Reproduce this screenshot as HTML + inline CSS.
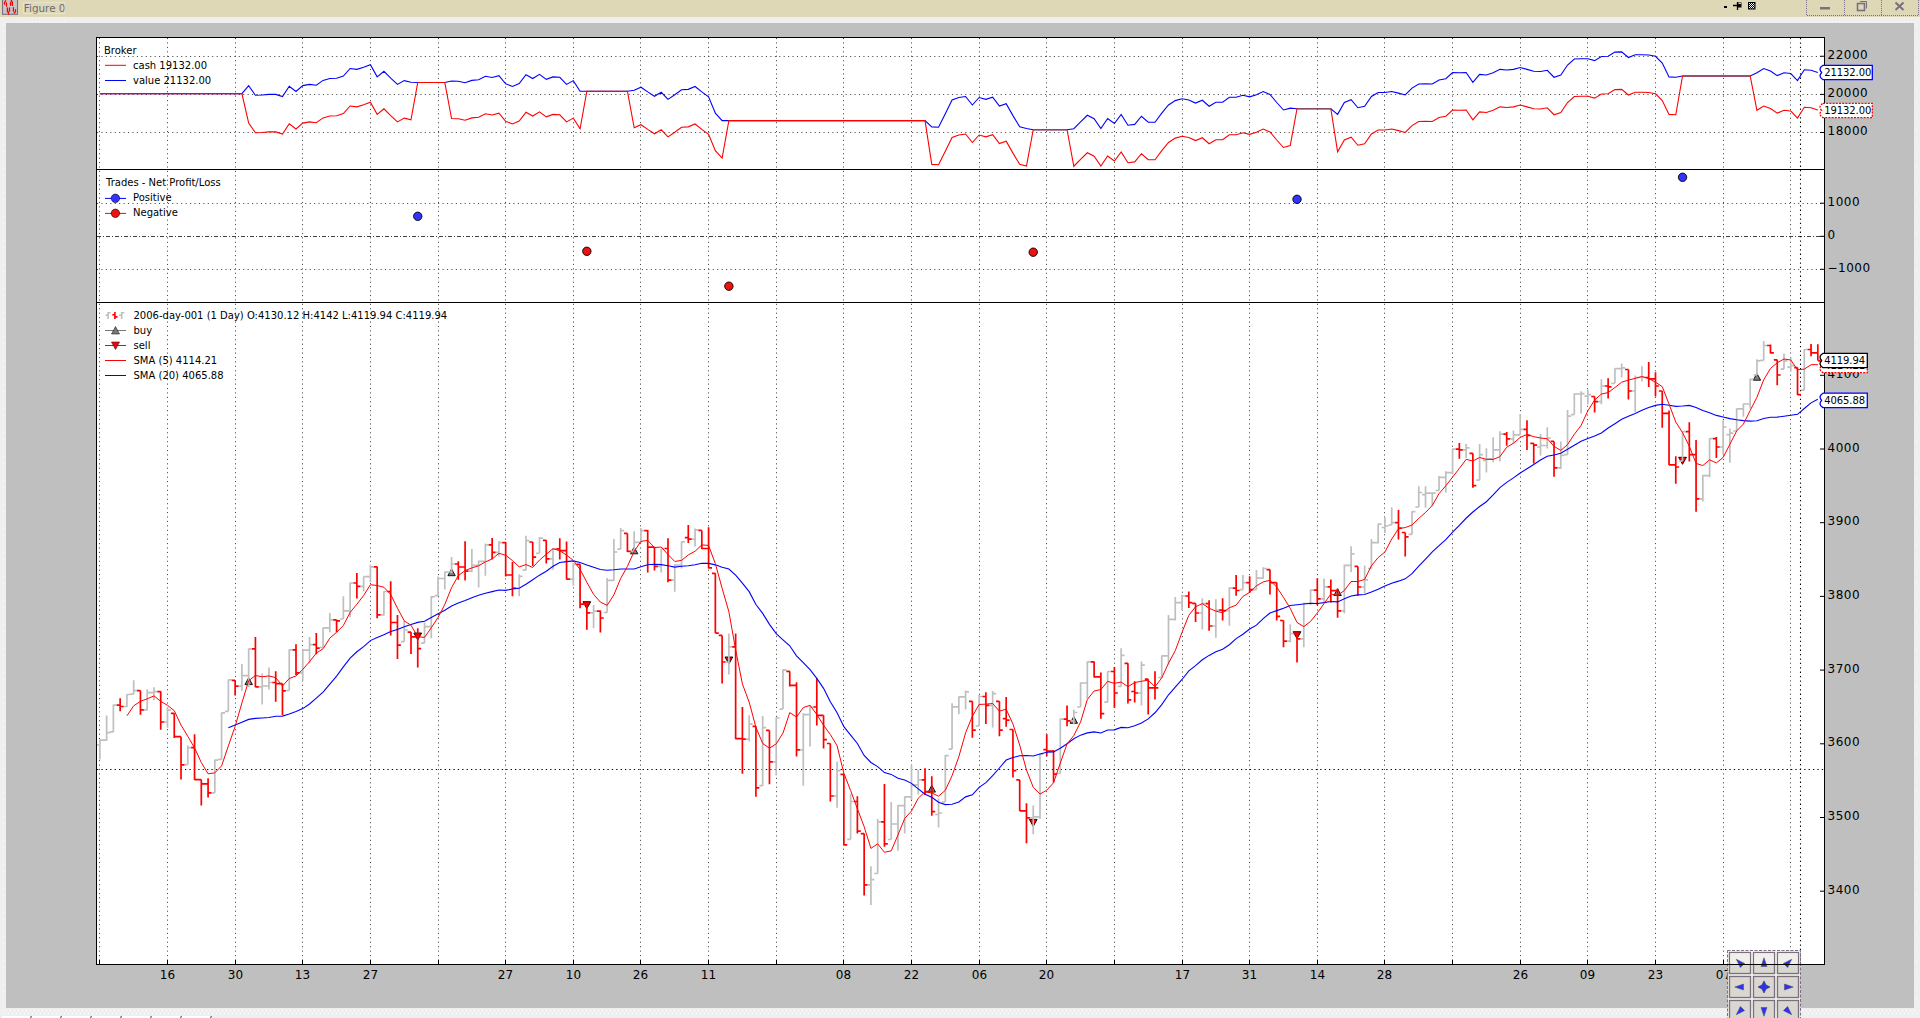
<!DOCTYPE html>
<html><head><meta charset="utf-8"><title>Figure 0</title>
<style>
html,body{margin:0;padding:0;width:1920px;height:1018px;overflow:hidden;background:#efefef;}
#tb{position:absolute;left:0;top:0;width:1920px;height:17px;background:#ded8b6;}
#fig{position:absolute;left:6px;top:23px;width:1908px;height:985px;background:#bfbfbf;}
svg{position:absolute;left:0;top:0;}
.tt{position:absolute;left:24px;top:1px;font:11px "DejaVu Sans","Liberation Sans",sans-serif;color:#6f6878;}
</style></head><body>
<div id="tb"></div>
<div id="fig"></div>
<svg width="1920" height="1018" viewBox="0 0 1920 1018">

<rect x="2.5" y="-0.5" width="15" height="14.8" fill="#c6c6c8" stroke="#787080" stroke-width="1.1"/>
<text x="23.8" y="11.7" font-family="DejaVu Sans, Liberation Sans, sans-serif" font-size="10.4" fill="#6f6878">Figure 0</text>
<rect x="23.5" y="2.5" width="41" height="11" fill="none" stroke="#ffffff" stroke-width="1" stroke-dasharray="1 1" opacity="0.6"/>
<path d="M5.6 0.8 L4.4 2.8 L4.5 4.2 M6.5 2.8 V6.2 M7.4 8 V11.8 M8.5 12 V14 M9.5 7.8 V11.2 M10.5 2.5 V5.3 M11.4 0 V1.6 M12.4 1.8 V5.4 M13.4 7.6 V11.2 M15.5 9.6 V11.8 L14.2 13" fill="none" stroke="#f00" stroke-width="1.3" stroke-linecap="round"/>
<rect x="1724" y="6" width="3" height="2" fill="#000"/>
<path d="M1733 5.5h4.5 M1737.5 2v8" fill="none" stroke="#000" stroke-width="1.3"/><rect x="1738" y="2.5" width="3.5" height="5" fill="#000"/><rect x="1738.5" y="3" width="2.5" height="1" fill="#ffffff" opacity="0.8"/>
<defs><pattern id="chk" width="2" height="2" patternUnits="userSpaceOnUse"><rect width="2" height="2" fill="#000"/><rect width="1" height="1" fill="#fff"/><rect x="1" y="1" width="1" height="1" fill="#fff"/></pattern></defs>
<rect x="1748" y="2" width="7.5" height="7.5" fill="#000"/><rect x="1749" y="3" width="5.5" height="5.5" fill="url(#chk)"/>
<line x1="21" y1="21.5" x2="66" y2="21.5" stroke="#fff" stroke-width="1" stroke-dasharray="1 2.6"/>
<line x1="1803" y1="21.5" x2="1918" y2="21.5" stroke="#fff" stroke-width="1" stroke-dasharray="1 2.6"/>
<line x1="3.5" y1="24" x2="3.5" y2="1008" stroke="#fff" stroke-width="1" stroke-dasharray="1 5"/>
<line x1="1916.5" y1="24" x2="1916.5" y2="1008" stroke="#fff" stroke-width="1" stroke-dasharray="1 12"/>
<line x1="2" y1="1010.5" x2="1918" y2="1010.5" stroke="#fff" stroke-width="1" stroke-dasharray="1 3"/>
<line x1="4" y1="1013.5" x2="1918" y2="1013.5" stroke="#fff" stroke-width="1" stroke-dasharray="1 3"/>
<path d="M1806.5 0v15.5H1918.5V0 M1844.5 0v15.5 M1881.5 0v15.5" fill="none" stroke="#7a7080" stroke-width="1" stroke-dasharray="1 1"/>
<rect x="1820" y="7" width="10" height="2.5" fill="#7a7080"/>
<rect x="1857.5" y="3.5" width="7" height="7" fill="none" stroke="#7a7080" stroke-width="1.6"/>
<path d="M1860 1.5h6.5v7" fill="none" stroke="#7a7080" stroke-width="1"/>
<path d="M1895.5 2.5l8 7.5 M1903.5 2.5l-8 7.5" stroke="#7a7080" stroke-width="2"/>
<rect x="2" y="1016" width="29" height="2" fill="#ffffff"/><path d="M30.5 1018 l1 -2" stroke="#6a6070" stroke-width="1.2"/><rect x="32" y="1016" width="29" height="2" fill="#ffffff"/><path d="M60.5 1018 l1 -2" stroke="#6a6070" stroke-width="1.2"/><rect x="62" y="1016" width="29" height="2" fill="#ffffff"/><path d="M90.5 1018 l1 -2" stroke="#6a6070" stroke-width="1.2"/><rect x="92" y="1016" width="29" height="2" fill="#ffffff"/><path d="M120.5 1018 l1 -2" stroke="#6a6070" stroke-width="1.2"/><rect x="122" y="1016" width="29" height="2" fill="#ffffff"/><path d="M150.5 1018 l1 -2" stroke="#6a6070" stroke-width="1.2"/><rect x="152" y="1016" width="29" height="2" fill="#ffffff"/><path d="M180.5 1018 l1 -2" stroke="#6a6070" stroke-width="1.2"/><rect x="182" y="1016" width="29" height="2" fill="#ffffff"/><path d="M210.5 1018 l1 -2" stroke="#6a6070" stroke-width="1.2"/>
<rect x="96.5" y="37.5" width="1728" height="927" fill="#fff"/><line x1="99.50" y1="38" x2="99.50" y2="964" stroke="#4a4a4a" stroke-width="1" stroke-dasharray="1.1 3.33"/><line x1="167.50" y1="38" x2="167.50" y2="964" stroke="#4a4a4a" stroke-width="1" stroke-dasharray="1.1 3.33"/><line x1="235.50" y1="38" x2="235.50" y2="964" stroke="#4a4a4a" stroke-width="1" stroke-dasharray="1.1 3.33"/><line x1="302.50" y1="38" x2="302.50" y2="964" stroke="#4a4a4a" stroke-width="1" stroke-dasharray="1.1 3.33"/><line x1="370.50" y1="38" x2="370.50" y2="964" stroke="#4a4a4a" stroke-width="1" stroke-dasharray="1.1 3.33"/><line x1="438.50" y1="38" x2="438.50" y2="964" stroke="#4a4a4a" stroke-width="1" stroke-dasharray="1.1 3.33"/><line x1="505.50" y1="38" x2="505.50" y2="964" stroke="#4a4a4a" stroke-width="1" stroke-dasharray="1.1 3.33"/><line x1="573.50" y1="38" x2="573.50" y2="964" stroke="#4a4a4a" stroke-width="1" stroke-dasharray="1.1 3.33"/><line x1="640.50" y1="38" x2="640.50" y2="964" stroke="#4a4a4a" stroke-width="1" stroke-dasharray="1.1 3.33"/><line x1="708.50" y1="38" x2="708.50" y2="964" stroke="#4a4a4a" stroke-width="1" stroke-dasharray="1.1 3.33"/><line x1="776.50" y1="38" x2="776.50" y2="964" stroke="#4a4a4a" stroke-width="1" stroke-dasharray="1.1 3.33"/><line x1="843.50" y1="38" x2="843.50" y2="964" stroke="#4a4a4a" stroke-width="1" stroke-dasharray="1.1 3.33"/><line x1="911.50" y1="38" x2="911.50" y2="964" stroke="#4a4a4a" stroke-width="1" stroke-dasharray="1.1 3.33"/><line x1="979.50" y1="38" x2="979.50" y2="964" stroke="#4a4a4a" stroke-width="1" stroke-dasharray="1.1 3.33"/><line x1="1046.50" y1="38" x2="1046.50" y2="964" stroke="#4a4a4a" stroke-width="1" stroke-dasharray="1.1 3.33"/><line x1="1114.50" y1="38" x2="1114.50" y2="964" stroke="#4a4a4a" stroke-width="1" stroke-dasharray="1.1 3.33"/><line x1="1182.50" y1="38" x2="1182.50" y2="964" stroke="#4a4a4a" stroke-width="1" stroke-dasharray="1.1 3.33"/><line x1="1249.50" y1="38" x2="1249.50" y2="964" stroke="#4a4a4a" stroke-width="1" stroke-dasharray="1.1 3.33"/><line x1="1317.50" y1="38" x2="1317.50" y2="964" stroke="#4a4a4a" stroke-width="1" stroke-dasharray="1.1 3.33"/><line x1="1384.50" y1="38" x2="1384.50" y2="964" stroke="#4a4a4a" stroke-width="1" stroke-dasharray="1.1 3.33"/><line x1="1452.50" y1="38" x2="1452.50" y2="964" stroke="#4a4a4a" stroke-width="1" stroke-dasharray="1.1 3.33"/><line x1="1520.50" y1="38" x2="1520.50" y2="964" stroke="#4a4a4a" stroke-width="1" stroke-dasharray="1.1 3.33"/><line x1="1587.50" y1="38" x2="1587.50" y2="964" stroke="#4a4a4a" stroke-width="1" stroke-dasharray="1.1 3.33"/><line x1="1655.50" y1="38" x2="1655.50" y2="964" stroke="#4a4a4a" stroke-width="1" stroke-dasharray="1.1 3.33"/><line x1="1723.50" y1="38" x2="1723.50" y2="964" stroke="#4a4a4a" stroke-width="1" stroke-dasharray="1.1 3.33"/><line x1="1790.50" y1="38" x2="1790.50" y2="964" stroke="#4a4a4a" stroke-width="1" stroke-dasharray="1.1 3.33"/><line x1="97" y1="56.5" x2="1824" y2="56.5" stroke="#4a4a4a" stroke-width="1" stroke-dasharray="1.1 3.33"/><line x1="97" y1="94.5" x2="1824" y2="94.5" stroke="#4a4a4a" stroke-width="1" stroke-dasharray="1.1 3.33"/><line x1="97" y1="132.5" x2="1824" y2="132.5" stroke="#4a4a4a" stroke-width="1" stroke-dasharray="1.1 3.33"/><line x1="97" y1="203.5" x2="1824" y2="203.5" stroke="#4a4a4a" stroke-width="1" stroke-dasharray="1.1 3.33"/><line x1="97" y1="269.5" x2="1824" y2="269.5" stroke="#4a4a4a" stroke-width="1" stroke-dasharray="1.1 3.33"/><line x1="97" y1="236.5" x2="1824" y2="236.5" stroke="#000" stroke-width="1" stroke-dasharray="4 2 1 2" opacity="0.75"/><line x1="1800.5" y1="38" x2="1800.5" y2="964" stroke="#000" stroke-width="1.1" stroke-dasharray="1.3 3.1"/><line x1="97" y1="769.5" x2="1824" y2="769.5" stroke="#000" stroke-width="1.1" stroke-dasharray="1.3 3.1"/><path d="M244.96 684.6L248.66 677.8L252.36 684.6Z" fill="#808080" stroke="#000" stroke-width="0.9"/>
<path d="M447.87 575.7L451.57 568.9L455.27 575.7Z" fill="#808080" stroke="#000" stroke-width="0.9"/>
<path d="M630.48 553.8L634.18 547.0L637.88 553.8Z" fill="#808080" stroke="#000" stroke-width="0.9"/>
<path d="M928.08 792.1L931.78 785.3L935.48 792.1Z" fill="#808080" stroke="#000" stroke-width="0.9"/>
<path d="M1070.12 723.3L1073.82 716.5L1077.52 723.3Z" fill="#808080" stroke="#000" stroke-width="0.9"/>
<path d="M1333.90 595.5L1337.60 588.7L1341.30 595.5Z" fill="#808080" stroke="#000" stroke-width="0.9"/>
<path d="M1753.24 380.2L1756.94 373.4L1760.64 380.2Z" fill="#808080" stroke="#000" stroke-width="0.9"/>
<path d="M413.85 633.0L417.75 640.0L421.65 633.0Z" fill="#ff0000" stroke="#000" stroke-width="0.9"/>
<path d="M582.94 601.7L586.84 608.7L590.74 601.7Z" fill="#ff0000" stroke="#000" stroke-width="0.9"/>
<path d="M724.97 657.0L728.87 664.0L732.77 657.0Z" fill="#ff0000" stroke="#000" stroke-width="0.9"/>
<path d="M1029.34 819.4L1033.24 826.4L1037.14 819.4Z" fill="#ff0000" stroke="#000" stroke-width="0.9"/>
<path d="M1293.12 631.7L1297.02 638.7L1300.92 631.7Z" fill="#ff0000" stroke="#000" stroke-width="0.9"/>
<path d="M1678.64 457.3L1682.54 464.3L1686.44 457.3Z" fill="#ff0000" stroke="#000" stroke-width="0.9"/>
<path d="M99.86 739.5V759.4M96.46 745.0H99.86M99.86 740.2H103.26M106.62 715.4V740.8M103.22 740.2H106.62M106.62 732.6H110.02M113.39 704.4V731.9M109.99 731.9H113.39M113.39 705.1H116.79M126.91 694.1V707.1M123.51 706.5H126.91M126.91 694.5H130.31M133.68 680.3V694.1M130.28 694.1H133.68M133.68 690.6H137.08M147.21 689.3V710.6M143.81 709.9H147.21M147.21 692.7H150.61M153.97 687.2V700.3M150.57 692.7H153.97M153.97 691.7H157.37M167.50 706.9V727.8M164.10 722.0H167.50M167.50 710.2H170.90M187.79 745.4V764.6M184.39 764.6H187.79M187.79 747.7H191.19M214.84 759.4V792.8M211.44 792.8H214.84M214.84 760.1H218.24M221.60 712.6V759.4M218.20 759.4H221.60M221.60 712.9H225.00M228.37 679.4V711.3M224.97 711.3H228.37M228.37 679.9H231.77M241.90 664.0V690.8M238.50 686.2H241.90M241.90 675.7H245.30M248.66 648.4V687.3M245.26 675.7H248.66M248.66 648.8H252.06M262.19 673.6V704.5M258.79 686.9H262.19M262.19 686.0H265.59M268.95 667.4V689.4M265.55 686.0H268.95M268.95 682.5H272.35M289.24 649.2V690.5M285.84 690.5H289.24M289.24 649.8H292.64M302.77 649.5V680.5M299.37 672.9H302.77M302.77 650.2H306.17M309.53 637.1V663.3M306.13 650.2H309.53M309.53 644.7H312.93M323.06 627.5V647.5M319.66 647.5H323.06M323.06 627.8H326.46M329.82 613.1V632.3M326.42 627.8H329.82M329.82 619.9H333.22M343.35 596.3V619.0M339.95 619.0H343.35M343.35 610.8H346.75M350.11 582.6V617.0M346.71 610.8H350.11M350.11 583.0H353.51M363.64 576.4V591.5M360.24 586.3H363.64M363.64 576.7H367.04M370.40 564.7V581.9M367.00 576.7H370.40M370.40 566.8H373.80M383.93 591.3V615.6M380.53 614.9H383.93M383.93 591.5H387.33M404.22 621.1V641.7M400.82 641.7H404.22M404.22 630.0H407.62M424.51 622.5V643.1M421.11 643.1H424.51M424.51 626.6H427.91M431.28 596.3V638.3M427.88 626.6H431.28M431.28 596.8H434.68M438.04 576.4V595.7M434.64 595.7H438.04M438.04 578.5H441.44M444.80 571.6V589.5M441.40 578.5H444.80M444.80 572.0H448.20M451.57 557.1V573.0M448.17 572.0H451.57M451.57 564.0H454.97M471.86 548.9V572.3M468.46 571.2H471.86M471.86 565.4H475.26M478.62 560.6V587.4M475.22 565.4H478.62M478.62 561.3H482.02M485.39 543.4V575.7M481.99 561.3H485.39M485.39 544.8H488.79M498.91 541.3V556.5M495.51 552.3H498.91M498.91 542.7H502.31M519.20 574.3V596.3M515.80 588.1H519.20M519.20 576.4H522.60M525.97 535.8V570.2M522.57 570.2H525.97M525.97 540.6H529.37M539.49 537.2V553.3M536.09 553.3H539.49M539.49 538.2H542.89M553.02 548.2V569.8M549.62 558.8H553.02M553.02 548.8H556.42M573.31 563.0V585.7M569.91 579.2H573.31M573.31 564.3H576.71M593.60 604.9V628.3M590.20 612.9H593.60M593.60 611.1H597.00M607.13 578.1V612.5M603.73 612.5H607.13M607.13 580.4H610.53M613.89 538.9V580.8M610.49 580.4H613.89M613.89 552.0H617.29M620.66 527.9V549.2M617.26 549.2H620.66M620.66 530.6H624.06M634.18 531.3V551.3M630.78 551.3H634.18M634.18 542.3H637.58M640.95 527.9V543.0M637.55 542.3H640.95M640.95 530.6H644.35M661.24 548.5V572.6M657.84 566.4H661.24M661.24 548.5H664.64M674.77 564.3V591.8M671.37 580.2H674.77M674.77 565.0H678.17M681.53 541.4V568.5M678.13 565.0H681.53M681.53 541.9H684.93M695.06 528.6V546.5M691.66 539.2H695.06M695.06 529.9H698.46M728.87 633.4V674.6M725.47 662.0H728.87M728.87 646.9H732.27M749.17 715.3V741.4M745.77 739.1H749.17M749.17 724.2H752.57M762.69 716.0V785.7M759.29 785.7H762.69M762.69 727.7H766.09M776.22 717.3V775.4M772.82 761.9H776.22M776.22 718.0H779.62M782.98 669.2V709.1M779.58 709.1H782.98M782.98 669.9H786.38M803.27 713.2V785.7M799.87 749.9H803.27M803.27 714.6H806.67M810.04 705.0V746.5M806.64 714.6H810.04M810.04 707.0H813.44M837.09 761.4V807.7M833.69 796.0H837.09M837.09 770.6H840.49M850.62 794.0V839.4M847.22 839.4H850.62M850.62 801.5H854.02M870.91 866.2V905.0M867.51 884.9H870.91M870.91 879.7H874.31M877.67 819.1V873.5M874.27 873.5H877.67M877.67 821.9H881.07M891.20 802.0V839.5M887.80 839.5H891.20M891.20 824.0H894.60M897.96 805.1V850.8M894.56 824.0H897.96M897.96 805.7H901.36M904.73 796.5V833.6M901.33 805.7H904.73M904.73 796.9H908.13M911.49 764.8V799.9M908.09 796.9H911.49M911.49 784.8H914.89M918.26 769.6V794.4M914.86 784.8H918.26M918.26 779.9H921.66M938.55 798.5V827.4M935.15 814.5H938.55M938.55 813.0H941.95M945.31 754.9V802.0M941.91 802.0H945.31M945.31 755.6H948.71M952.07 703.3V749.1M948.67 749.1H952.07M952.07 706.8H955.47M958.84 696.5V714.3M955.44 706.8H958.84M958.84 696.9H962.24M965.60 690.5V709.5M962.20 696.9H965.60M965.60 691.9H969.00M979.13 695.1V726.0M975.73 726.0H979.13M979.13 696.5H982.53M992.66 690.9V727.4M989.26 705.4H992.66M992.66 693.7H996.06M1033.24 805.4V834.3M1029.84 817.8H1033.24M1033.24 816.8H1036.64M1040.00 753.5V819.1M1036.60 816.8H1040.00M1040.00 754.2H1043.40M1060.29 718.5V773.5M1056.89 773.5H1060.29M1060.29 719.1H1063.69M1073.82 709.5V724.6M1070.42 720.8H1073.82M1073.82 712.5H1077.22M1080.58 682.3V707.0M1077.18 707.0H1080.58M1080.58 683.0H1083.98M1087.35 661.4V698.5M1083.95 683.0H1087.35M1087.35 661.9H1090.75M1107.64 671.3V702.2M1104.24 702.2H1107.64M1107.64 671.5H1111.04M1121.16 648.2V686.4M1117.76 686.4H1121.16M1121.16 655.4H1124.56M1141.45 661.4V705.4M1138.05 693.0H1141.45M1141.45 665.1H1144.85M1161.75 655.4V677.5M1158.35 677.5H1161.75M1161.75 655.9H1165.15M1168.51 615.0V664.4M1165.11 655.9H1168.51M1168.51 619.4H1171.91M1175.27 597.1V620.5M1171.87 619.4H1175.27M1175.27 602.6H1178.67M1182.04 594.7V610.2M1178.64 602.6H1182.04M1182.04 596.0H1185.44M1202.33 598.2V629.5M1198.93 613.0H1202.33M1202.33 603.7H1205.73M1215.85 599.2V637.7M1212.45 626.0H1215.85M1215.85 610.2H1219.25M1229.38 587.2V625.7M1225.98 610.6H1229.38M1229.38 588.2H1232.78M1242.91 575.1V589.6M1239.51 589.6H1242.91M1242.91 582.7H1246.31M1256.44 569.9V589.6M1253.04 589.6H1256.44M1256.44 578.2H1259.84M1263.20 567.2V578.6M1259.80 578.2H1263.20M1263.20 568.5H1266.60M1290.25 624.2V642.5M1286.85 641.1H1290.25M1290.25 633.5H1293.65M1303.78 602.6V647.3M1300.38 638.8H1303.78M1303.78 603.5H1307.18M1310.54 589.5V605.3M1307.14 603.5H1310.54M1310.54 590.2H1313.94M1324.07 578.5V603.3M1320.67 598.9H1324.07M1324.07 586.8H1327.47M1344.36 564.5V613.6M1340.96 610.8H1344.36M1344.36 565.4H1347.76M1351.13 546.2V572.3M1347.73 565.4H1351.13M1351.13 553.8H1354.53M1364.65 565.4V593.6M1361.25 587.0H1364.65M1364.65 579.9H1368.05M1371.42 539.2V568.5M1368.02 568.5H1371.42M1371.42 542.7H1374.82M1378.18 523.4V543.5M1374.78 542.7H1378.18M1378.18 524.2H1381.58M1384.94 517.2V532.9M1381.54 527.5H1384.94M1384.94 526.0H1388.34M1391.71 507.3V525.0M1388.31 525.0H1391.71M1391.71 522.7H1395.11M1412.00 511.3V534.4M1408.60 534.4H1412.00M1412.00 511.7H1415.40M1418.76 486.3V507.0M1415.36 507.0H1418.76M1418.76 492.5H1422.16M1425.53 486.3V507.7M1422.13 494.7H1425.53M1425.53 493.2H1428.93M1432.29 492.5V506.3M1428.89 493.2H1432.29M1432.29 493.2H1435.69M1439.05 476.0V490.5M1435.65 490.5H1439.05M1439.05 477.4H1442.45M1445.82 471.2V492.5M1442.42 477.4H1445.82M1445.82 472.6H1449.22M1452.58 448.5V474.6M1449.18 472.6H1452.58M1452.58 449.2H1455.98M1466.11 444.1V458.1M1462.71 449.9H1466.11M1466.11 447.8H1469.51M1479.63 444.1V480.2M1476.23 480.2H1479.63M1479.63 454.7H1483.03M1486.40 448.2V472.6M1483.00 460.3H1486.40M1486.40 458.8H1489.80M1493.16 437.2V462.3M1489.76 458.8H1493.16M1493.16 449.9H1496.56M1499.93 431.3V461.6M1496.53 449.9H1499.93M1499.93 434.1H1503.33M1513.45 430.4V443.7M1510.05 438.9H1513.45M1513.45 434.8H1516.85M1520.22 414.1V434.8M1516.82 434.8H1520.22M1520.22 429.3H1523.62M1540.51 434.1V455.4M1537.11 447.0H1540.51M1540.51 445.5H1543.91M1547.27 427.2V448.5M1543.87 445.5H1547.27M1547.27 438.2H1550.67M1560.80 441.4V469.1M1557.40 467.8H1560.80M1560.80 455.4H1564.20M1567.56 410.0V454.7M1564.16 454.7H1567.56M1567.56 416.2H1570.96M1574.32 393.3V414.6M1570.92 414.6H1574.32M1574.32 394.0H1577.72M1581.09 391.3V413.5M1577.69 394.0H1581.09M1581.09 393.7H1584.49M1587.85 389.6V404.3M1584.45 396.2H1587.85M1587.85 394.7H1591.25M1601.38 379.2V404.3M1597.98 401.6H1601.38M1601.38 386.0H1604.78M1614.91 368.2V383.3M1611.51 383.3H1614.91M1614.91 368.6H1618.31M1621.67 363.5V377.5M1618.27 368.6H1621.67M1621.67 367.9H1625.07M1635.20 375.4V411.9M1631.80 391.0H1635.20M1635.20 377.5H1638.60M1641.96 366.2V381.4M1638.56 377.5H1641.96M1641.96 377.5H1645.36M1682.54 431.3V461.1M1679.14 461.1H1682.54M1682.54 431.7H1685.94M1702.83 475.1V501.6M1699.43 498.9H1702.83M1702.83 475.6H1706.23M1709.60 438.0V477.2M1706.20 475.6H1709.60M1709.60 438.7H1713.00M1723.12 420.2V454.5M1719.72 447.0H1723.12M1723.12 427.0H1726.52M1729.89 428.4V462.8M1726.49 434.7H1729.89M1729.89 433.2H1733.29M1736.65 408.4V431.0M1733.25 431.0H1736.65M1736.65 408.9H1740.05M1743.41 403.5V416.8M1740.01 408.9H1743.41M1743.41 404.0H1746.81M1750.18 378.4V408.6M1746.78 404.0H1750.18M1750.18 379.4H1753.58M1756.94 359.3V375.0M1753.54 375.0H1756.94M1756.94 360.8H1760.34M1763.71 341.1V360.3M1760.31 360.3H1763.71M1763.71 345.5H1767.11M1784.00 353.4V369.1M1780.60 369.1H1784.00M1784.00 360.8H1787.40M1790.76 357.3V371.6M1787.36 367.2H1790.76M1790.76 365.7H1794.16M1804.29 349.0V390.2M1800.89 390.2H1804.29M1804.29 349.5H1807.69" fill="none" stroke="#bfbfbf" stroke-width="1.7"/>
<path d="M120.15 698.2V711.3M116.75 705.1H120.15M120.15 706.5H123.55M140.44 690.4V714.7M137.04 690.6H140.44M140.44 709.9H143.84M160.73 691.3V729.8M157.33 691.7H160.73M160.73 722.0H164.13M174.26 713.3V738.1M170.86 713.3H174.26M174.26 736.7H177.66M181.02 736.7V779.4M177.62 736.7H181.02M181.02 764.9H184.42M194.55 734.2V780.0M191.15 747.7H194.55M194.55 779.6H197.95M201.31 779.6V805.5M197.91 779.6H201.31M201.31 783.9H204.71M208.08 778.3V797.6M204.68 783.9H208.08M208.08 792.8H211.48M235.13 680.3V695.4M231.73 680.3H235.13M235.13 686.2H238.53M255.42 637.1V687.3M252.02 648.8H255.42M255.42 686.9H258.82M275.71 671.3V701.8M272.31 682.5H275.71M275.71 683.6H279.11M282.48 683.6V714.9M279.08 683.6H282.48M282.48 690.8H285.88M296.00 644.3V675.0M292.60 649.8H296.00M296.00 672.9H299.40M316.30 633.0V654.3M312.90 644.7H316.30M316.30 648.1H319.70M336.59 619.7V632.3M333.19 619.9H336.59M336.59 620.9H339.99M356.88 573.0V598.4M353.48 583.0H356.88M356.88 586.3H360.28M377.17 566.8V618.3M373.77 566.8H377.17M377.17 614.9H380.57M390.69 581.2V635.5M387.29 591.5H390.69M390.69 622.5H394.09M397.46 614.9V658.9M394.06 622.5H397.46M397.46 645.2H400.86M410.99 632.1V654.1M407.59 632.1H410.99M410.99 636.9H414.39M417.75 628.3V667.5M414.35 636.9H417.75M417.75 648.6H421.15M458.33 561.3V579.8M454.93 564.0H458.33M458.33 567.0H461.73M465.09 541.3V580.5M461.69 567.0H465.09M465.09 571.2H468.49M492.15 537.9V559.2M488.75 544.8H492.15M492.15 552.3H495.55M505.68 542.0V576.4M502.28 542.7H505.68M505.68 575.0H509.08M512.44 562.0V596.3M509.04 575.0H512.44M512.44 588.1H515.84M532.73 542.0V566.1M529.33 542.0H532.73M532.73 557.1H536.13M546.26 540.3V563.6M542.86 540.3H546.26M546.26 558.8H549.66M559.78 538.2V559.5M556.38 548.8H559.78M559.78 550.6H563.18M566.55 541.4V579.5M563.15 550.6H566.55M566.55 579.2H569.95M580.08 564.3V608.3M576.68 564.3H580.08M580.08 604.2H583.48M586.84 603.5V629.7M583.44 604.2H586.84M586.84 612.9H590.24M600.37 610.4V632.4M596.97 611.1H600.37M600.37 618.0H603.77M627.42 533.4V552.0M624.02 533.4H627.42M627.42 551.3H630.82M647.71 529.9V572.6M644.31 530.6H647.71M647.71 547.1H651.11M654.48 547.1V570.5M651.08 547.1H654.48M654.48 566.4H657.88M668.00 538.2V582.2M664.60 548.5H668.00M668.00 580.2H671.40M688.29 525.1V543.0M684.89 537.7H688.29M688.29 539.2H691.69M701.82 530.4V549.2M698.42 530.4H701.82M701.82 548.5H705.22M708.58 527.2V568.5M705.18 548.5H708.58M708.58 567.8H711.98M715.35 573.3V633.1M711.95 573.3H715.35M715.35 633.1H718.75M722.11 635.4V683.6M718.71 635.4H722.11M722.11 662.0H725.51M735.64 633.4V739.3M732.24 646.9H735.64M735.64 738.6H739.04M742.40 707.0V773.7M739.00 738.6H742.40M742.40 739.1H745.80M755.93 726.3V796.7M752.53 726.3H755.93M755.93 787.8H759.33M769.46 730.4V784.3M766.06 730.4H769.46M769.46 761.9H772.86M789.75 671.3V686.4M786.35 671.3H789.75M789.75 685.4H793.15M796.51 682.3V756.4M793.11 685.4H796.51M796.51 749.9H799.91M816.80 678.1V725.6M813.40 707.0H816.80M816.80 715.3H820.20M823.57 715.3V748.6M820.17 715.3H823.57M823.57 739.6H826.97M830.33 743.5V801.5M826.93 743.5H830.33M830.33 796.0H833.73M843.86 774.3V845.3M840.46 774.3H843.86M843.86 844.9H847.26M857.38 796.3V833.4M853.98 801.5H857.38M857.38 831.1H860.78M864.15 833.6V895.5M860.75 833.6H864.15M864.15 884.9H867.55M884.44 784.1V846.7M881.04 821.9H884.44M884.44 843.9H887.84M925.02 768.3V795.1M921.62 779.9H925.02M925.02 791.6H928.42M931.78 776.2V815.7M928.38 791.6H931.78M931.78 811.6H935.18M972.36 701.3V737.7M968.96 701.3H972.36M972.36 730.2H975.76M985.89 692.3V724.0M982.49 696.5H985.89M985.89 705.4H989.29M999.42 701.3V736.3M996.02 701.3H999.42M999.42 730.2H1002.82M1006.18 697.1V726.7M1002.78 718.7H1006.18M1006.18 720.2H1009.58M1012.95 729.5V777.6M1009.55 729.5H1012.95M1012.95 770.7H1016.35M1019.71 779.9V810.9M1016.31 779.9H1019.71M1019.71 810.9H1023.11M1026.47 803.3V843.2M1023.07 810.9H1026.47M1026.47 817.8H1029.87M1046.76 734.3V756.3M1043.36 749.6H1046.76M1046.76 751.1H1050.16M1053.53 750.1V782.4M1050.13 751.1H1053.53M1053.53 774.2H1056.93M1067.05 705.4V726.3M1063.65 719.1H1067.05M1067.05 720.8H1070.45M1094.11 661.4V677.5M1090.71 661.9H1094.11M1094.11 676.8H1097.51M1100.87 672.4V718.7M1097.47 676.8H1100.87M1100.87 713.6H1104.27M1114.40 666.9V707.7M1111.00 671.5H1114.40M1114.40 693.0H1117.80M1127.93 663.3V703.6M1124.53 663.3H1127.93M1127.93 699.9H1131.33M1134.69 681.2V702.6M1131.29 691.5H1134.69M1134.69 693.0H1138.09M1148.22 679.2V714.6M1144.82 679.2H1148.22M1148.22 687.8H1151.62M1154.98 671.3V699.5M1151.58 687.8H1154.98M1154.98 687.8H1158.38M1188.80 591.4V608.1M1185.40 596.0H1188.80M1188.80 602.6H1192.20M1195.56 603.3V621.9M1192.16 603.3H1195.56M1195.56 613.0H1198.96M1209.09 600.2V630.8M1205.69 603.7H1209.09M1209.09 626.0H1212.49M1222.62 598.2V620.5M1219.22 610.2H1222.62M1222.62 610.6H1226.02M1236.14 575.1V595.8M1232.74 588.2H1236.14M1236.14 590.5H1239.54M1249.67 576.2V593.0M1246.27 582.7H1249.67M1249.67 589.6H1253.07M1269.96 569.6V594.4M1266.56 569.6H1269.96M1269.96 582.7H1273.36M1276.73 582.6V620.5M1273.33 582.7H1276.73M1276.73 616.3H1280.13M1283.49 620.5V647.3M1280.09 620.5H1283.49M1283.49 641.1H1286.89M1297.02 633.5V662.4M1293.62 633.5H1297.02M1297.02 638.8H1300.42M1317.31 578.2V605.3M1313.91 590.2H1317.31M1317.31 598.9H1320.71M1330.84 579.6V602.6M1327.44 586.8H1330.84M1330.84 590.6H1334.24M1337.60 588.8V617.7M1334.20 590.6H1337.60M1337.60 610.8H1341.00M1357.89 566.4V595.7M1354.49 566.4H1357.89M1357.89 587.0H1361.29M1398.47 510.1V539.5M1395.07 522.7H1398.47M1398.47 528.2H1401.87M1405.23 532.5V556.4M1401.83 532.5H1405.23M1405.23 536.8H1408.63M1459.34 443.0V458.8M1455.94 449.2H1459.34M1459.34 449.9H1462.74M1472.87 453.3V487.7M1469.47 453.3H1472.87M1472.87 485.7H1476.27M1506.69 432.0V445.8M1503.29 434.1H1506.69M1506.69 438.9H1510.09M1526.98 420.3V449.9M1523.58 429.3H1526.98M1526.98 435.4H1530.38M1533.74 443.3V463.6M1530.34 443.3H1533.74M1533.74 445.1H1537.14M1554.03 441.4V476.7M1550.63 441.4H1554.03M1554.03 467.8H1557.43M1594.62 396.5V412.6M1591.22 396.5H1594.62M1594.62 401.6H1598.02M1608.14 378.2V398.4M1604.74 386.0H1608.14M1608.14 386.9H1611.54M1628.43 369.5V399.5M1625.03 369.5H1628.43M1628.43 391.0H1631.83M1648.72 362.1V386.9M1645.32 377.5H1648.72M1648.72 378.9H1652.12M1655.49 372.3V396.5M1652.09 378.9H1655.49M1655.49 386.0H1658.89M1662.25 391.0V427.7M1658.85 391.0H1662.25M1662.25 413.3H1665.65M1669.02 410.5V464.9M1665.62 413.3H1669.02M1669.02 464.9H1672.42M1675.78 456.2V483.7M1672.38 464.9H1675.78M1675.78 467.0H1679.18M1689.31 422.2V461.6M1685.91 431.7H1689.31M1689.31 454.6H1692.71M1696.07 440.0V511.8M1692.67 454.6H1696.07M1696.07 498.9H1699.47M1716.36 436.9V458.0M1712.96 438.7H1716.36M1716.36 447.0H1719.76M1770.47 344.6V353.4M1767.07 345.5H1770.47M1770.47 352.9H1773.87M1777.23 359.8V385.3M1773.83 359.8H1777.23M1777.23 375.0H1780.63M1797.52 367.6V395.1M1794.12 367.6H1797.52M1797.52 394.7H1800.92M1811.05 344.1V356.3M1807.65 349.5H1811.05M1811.05 352.9H1814.45M1817.81 344.3V360.6M1814.41 352.9H1817.81M1817.81 360.6H1821.21" fill="none" stroke="#ff0000" stroke-width="1.7"/>
<polyline points="228.37,727.72 235.13,725.03 241.90,722.18 248.66,719.37 255.42,718.39 262.19,717.97 268.95,717.56 275.71,716.25 282.48,716.15 289.24,714.06 296.00,711.60 302.77,708.60 309.53,704.00 316.30,698.17 323.06,692.17 329.82,684.18 336.59,676.04 343.35,666.93 350.11,658.08 356.88,651.75 363.64,646.59 370.40,640.61 377.17,637.57 383.93,634.71 390.69,631.49 397.46,629.45 404.22,626.82 410.99,624.49 417.75,622.38 424.51,621.22 431.28,617.41 438.04,613.82 444.80,610.19 451.57,605.98 458.33,602.94 465.09,600.51 471.86,597.73 478.62,595.25 485.39,593.34 492.15,591.64 498.91,589.94 505.68,590.36 512.44,589.02 519.20,588.26 525.97,584.17 532.73,579.77 539.49,575.17 546.26,571.27 553.02,566.28 559.78,562.48 566.55,561.60 573.31,560.89 580.08,562.50 586.84,564.95 593.60,567.15 600.37,569.49 607.13,570.24 613.89,569.78 620.66,569.07 627.42,569.02 634.18,569.00 640.95,566.78 647.71,564.73 654.48,564.23 661.24,564.63 668.00,565.78 674.77,567.12 681.53,566.27 688.29,565.79 695.06,564.76 701.82,563.23 708.58,563.40 715.35,564.84 722.11,567.30 728.87,569.09 735.64,575.12 742.40,583.05 749.17,591.66 755.93,604.52 762.69,613.34 769.46,624.32 776.22,633.69 782.98,639.83 789.75,645.78 796.51,655.85 803.27,662.57 810.04,669.67 816.80,678.34 823.57,688.36 830.33,701.67 837.09,712.77 843.86,726.63 850.62,735.05 857.38,743.50 864.15,755.40 870.91,762.46 877.67,766.60 884.44,772.58 891.20,774.39 897.96,778.29 904.73,780.04 911.49,783.38 918.26,788.88 925.02,794.19 931.78,797.27 938.55,802.19 945.31,804.62 952.07,804.19 958.84,802.05 965.60,796.85 972.36,794.83 979.13,787.41 985.89,782.60 992.66,775.73 999.42,767.99 1006.18,760.02 1012.95,757.46 1019.71,755.81 1026.47,755.50 1033.24,756.06 1040.00,753.93 1046.76,752.24 1053.53,751.95 1060.29,748.33 1067.05,743.79 1073.82,738.77 1080.58,735.14 1087.35,732.89 1094.11,731.89 1100.87,732.97 1107.64,730.04 1114.40,729.87 1121.16,727.37 1127.93,727.68 1134.69,725.82 1141.45,723.07 1148.22,718.92 1154.98,712.76 1161.75,704.67 1168.51,694.80 1175.27,687.22 1182.04,679.47 1188.80,670.89 1195.56,665.58 1202.33,659.73 1209.09,655.40 1215.85,651.77 1222.62,649.20 1229.38,644.77 1236.14,638.62 1242.91,634.18 1249.67,629.00 1256.44,625.14 1263.20,618.57 1269.96,613.06 1276.73,610.62 1283.49,608.29 1290.25,605.57 1297.02,604.72 1303.78,603.93 1310.54,603.31 1317.31,603.45 1324.07,602.65 1330.84,601.54 1337.60,601.89 1344.36,598.86 1351.13,596.04 1357.89,594.86 1364.65,594.45 1371.42,592.05 1378.18,589.13 1384.94,585.95 1391.71,583.17 1398.47,581.15 1405.23,578.86 1412.00,573.63 1418.76,566.20 1425.53,559.18 1432.29,551.90 1439.05,545.60 1445.82,539.72 1452.58,532.23 1459.34,525.39 1466.11,518.25 1472.87,511.99 1479.63,506.45 1486.40,501.71 1493.16,494.85 1499.93,487.56 1506.69,482.37 1513.45,477.89 1520.22,473.06 1526.98,468.70 1533.74,464.54 1540.51,459.98 1547.27,456.31 1554.03,455.07 1560.80,453.18 1567.56,449.33 1574.32,445.16 1581.09,441.21 1587.85,438.49 1594.62,436.07 1601.38,432.98 1608.14,428.05 1614.91,423.74 1621.67,419.19 1628.43,416.25 1635.20,413.42 1641.96,410.35 1648.72,407.56 1655.49,405.39 1662.25,404.29 1669.02,405.28 1675.78,406.35 1682.54,406.02 1689.31,405.36 1696.07,407.54 1702.83,410.51 1709.60,412.75 1716.36,415.41 1723.12,417.02 1729.89,418.61 1736.65,419.75 1743.41,420.60 1750.18,421.15 1756.94,420.79 1763.71,418.52 1770.47,417.29 1777.23,417.16 1784.00,416.26 1790.76,415.24 1797.52,414.31 1804.29,408.54 1811.05,402.84 1817.81,399.28" fill="none" stroke="#0000ff" stroke-width="1.1"/>
<polyline points="126.91,715.75 133.68,705.85 140.44,701.31 147.21,698.83 153.97,695.89 160.73,701.39 167.50,705.30 174.26,710.66 181.02,725.10 187.79,736.30 194.55,747.83 201.31,762.57 208.08,773.80 214.84,772.83 221.60,765.87 228.37,745.93 235.13,726.40 241.90,702.96 248.66,680.71 255.42,675.51 262.19,676.72 268.95,675.98 275.71,677.58 282.48,685.97 289.24,678.54 296.00,675.93 302.77,669.46 309.53,661.68 316.30,653.15 323.06,648.75 329.82,638.16 336.59,632.30 343.35,625.51 350.11,612.48 356.88,604.19 363.64,595.53 370.40,584.70 377.17,585.53 383.93,587.24 390.69,594.47 397.46,608.17 404.22,620.83 410.99,625.23 417.75,636.64 424.51,637.47 431.28,627.79 438.04,617.47 444.80,604.48 451.57,587.57 458.33,575.65 465.09,570.54 471.86,567.92 478.62,565.78 485.39,561.93 492.15,558.98 498.91,553.29 505.68,555.21 512.44,560.58 519.20,566.91 525.97,564.57 532.73,567.46 539.49,560.09 546.26,554.24 553.02,548.72 559.78,550.71 566.55,555.12 573.31,560.34 580.08,569.42 586.84,582.24 593.60,594.35 600.37,602.10 607.13,605.32 613.89,594.87 620.66,578.42 627.42,566.45 634.18,551.32 640.95,541.36 647.71,540.40 654.48,547.55 661.24,547.00 668.00,554.57 674.77,561.44 681.53,560.40 688.29,554.95 695.06,551.24 701.82,544.91 708.58,545.46 715.35,563.70 722.11,588.27 728.87,611.65 735.64,649.67 742.40,683.93 749.17,702.15 755.93,727.31 762.69,743.47 769.46,748.13 776.22,743.92 782.98,733.05 789.75,712.59 796.51,717.04 803.27,707.58 810.04,705.38 816.80,714.46 823.57,725.30 830.33,734.51 837.09,745.71 843.86,773.27 850.62,790.52 857.38,808.82 864.15,826.59 870.91,848.41 877.67,843.82 884.44,852.29 891.20,850.87 897.96,835.02 904.73,818.46 911.49,811.03 918.26,798.24 925.02,791.77 931.78,792.96 938.55,796.18 945.31,790.34 952.07,775.71 958.84,756.75 965.60,732.82 972.36,716.26 979.13,704.43 985.89,704.15 992.66,703.52 999.42,711.17 1006.18,709.19 1012.95,724.04 1019.71,745.14 1026.47,769.96 1033.24,787.29 1040.00,794.09 1046.76,790.15 1053.53,782.81 1060.29,763.08 1067.05,743.88 1073.82,735.54 1080.58,721.92 1087.35,699.47 1094.11,690.99 1100.87,689.56 1107.64,681.36 1114.40,683.37 1121.16,682.08 1127.93,686.70 1134.69,682.57 1141.45,681.28 1148.22,680.23 1154.98,686.70 1161.75,677.90 1168.51,663.18 1175.27,650.69 1182.04,632.34 1188.80,615.32 1195.56,606.74 1202.33,603.60 1209.09,608.28 1215.85,611.11 1222.62,612.71 1229.38,607.76 1236.14,605.12 1242.91,596.45 1249.67,592.32 1256.44,585.83 1263.20,581.90 1269.96,580.33 1276.73,587.06 1283.49,597.36 1290.25,608.44 1297.02,622.49 1303.78,626.66 1310.54,621.43 1317.31,612.98 1324.07,603.63 1330.84,594.00 1337.60,595.46 1344.36,590.51 1351.13,581.49 1357.89,581.54 1364.65,579.39 1371.42,565.77 1378.18,557.52 1384.94,551.96 1391.71,539.08 1398.47,528.73 1405.23,527.56 1412.00,525.04 1418.76,518.36 1425.53,512.47 1432.29,505.48 1439.05,493.60 1445.82,485.79 1452.58,477.13 1459.34,468.46 1466.11,459.38 1472.87,461.03 1479.63,457.46 1486.40,459.38 1493.16,459.38 1499.93,456.63 1506.69,447.28 1513.45,443.29 1520.22,437.37 1526.98,434.48 1533.74,436.69 1540.51,438.01 1547.27,438.69 1554.03,446.40 1560.80,450.39 1567.56,444.61 1574.32,434.31 1581.09,425.42 1587.85,410.81 1594.62,400.05 1601.38,394.02 1608.14,392.59 1614.91,387.55 1621.67,382.19 1628.43,380.07 1635.20,378.36 1641.96,376.49 1648.72,378.56 1655.49,382.19 1662.25,386.64 1669.02,404.11 1675.78,422.01 1682.54,432.57 1689.31,446.27 1696.07,463.39 1702.83,465.55 1709.60,459.89 1716.36,462.95 1723.12,457.45 1729.89,444.32 1736.65,430.97 1743.41,424.02 1750.18,410.51 1756.94,397.26 1763.71,379.72 1770.47,368.53 1777.23,362.73 1784.00,359.00 1790.76,359.98 1797.52,369.80 1804.29,369.12 1811.05,364.70 1817.81,364.66" fill="none" stroke="#ff0000" stroke-width="1.0"/>
<polyline points="99.86,93.60 106.62,93.60 113.39,93.60 120.15,93.60 126.91,93.60 133.68,93.60 140.44,93.60 147.21,93.60 153.97,93.60 160.73,93.60 167.50,93.60 174.26,93.60 181.02,93.60 187.79,93.60 194.55,93.60 201.31,93.60 208.08,93.60 214.84,93.60 221.60,93.60 228.37,93.60 235.13,93.60 241.90,93.60 248.66,85.62 255.42,95.25 262.19,95.00 268.95,94.38 275.71,94.38 282.48,96.50 289.24,86.25 296.00,91.50 302.77,85.62 309.53,84.38 316.30,85.25 323.06,80.38 329.82,78.50 336.59,78.25 343.35,76.00 350.11,68.50 356.88,69.38 363.64,67.25 370.40,64.75 377.17,76.88 383.93,71.25 390.69,78.12 397.46,84.38 404.22,80.62 410.99,82.25 417.75,82.50 424.51,82.50 431.28,82.50 438.04,82.50 444.80,82.50 451.57,81.00 458.33,81.25 465.09,82.75 471.86,80.38 478.62,79.75 485.39,76.25 492.15,77.50 498.91,75.62 505.68,83.75 512.44,86.50 519.20,83.50 525.97,74.75 532.73,78.50 539.49,74.38 546.26,79.38 553.02,76.88 559.78,77.25 566.55,84.38 573.31,80.62 580.08,91.25 586.84,91.25 593.60,91.25 600.37,91.25 607.13,91.25 613.89,91.25 620.66,91.25 627.42,91.25 634.18,90.25 640.95,87.25 647.71,91.88 654.48,96.25 661.24,92.25 668.00,99.38 674.77,94.75 681.53,89.75 688.29,89.38 695.06,86.50 701.82,91.88 708.58,96.88 715.35,113.12 722.11,120.62 728.87,120.60 735.64,120.60 742.40,120.60 749.17,120.60 755.93,120.60 762.69,120.60 769.46,120.60 776.22,120.60 782.98,120.60 789.75,120.60 796.51,120.60 803.27,120.60 810.04,120.60 816.80,120.60 823.57,120.60 830.33,120.60 837.09,120.60 843.86,120.60 850.62,120.60 857.38,120.60 864.15,120.60 870.91,120.60 877.67,120.60 884.44,120.60 891.20,120.60 897.96,120.60 904.73,120.60 911.49,120.60 918.26,120.60 925.02,120.60 931.78,126.88 938.55,127.25 945.31,113.75 952.07,100.00 958.84,97.50 965.60,96.50 972.36,105.00 979.13,97.50 985.89,99.38 992.66,97.25 999.42,106.00 1006.18,103.75 1012.95,115.62 1019.71,126.88 1026.47,128.50 1033.24,129.75 1040.00,129.75 1046.76,129.75 1053.53,129.75 1060.29,129.75 1067.05,129.75 1073.82,128.75 1080.58,121.88 1087.35,115.25 1094.11,118.75 1100.87,128.50 1107.64,118.50 1114.40,123.50 1121.16,114.38 1127.93,125.25 1134.69,124.38 1141.45,116.25 1148.22,122.25 1154.98,122.25 1161.75,113.12 1168.51,105.00 1175.27,100.62 1182.04,98.75 1188.80,100.00 1195.56,103.12 1202.33,100.25 1209.09,106.25 1215.85,102.25 1222.62,102.25 1229.38,97.25 1236.14,97.25 1242.91,95.25 1249.67,96.88 1256.44,94.75 1263.20,91.50 1269.96,94.38 1276.73,102.50 1283.49,110.00 1290.25,108.12 1297.02,108.75 1303.78,108.75 1310.54,108.75 1317.31,108.75 1324.07,108.75 1330.84,108.75 1337.60,114.38 1344.36,102.50 1351.13,99.75 1357.89,107.75 1364.65,106.25 1371.42,96.50 1378.18,92.50 1384.94,92.50 1391.71,91.50 1398.47,93.12 1405.23,95.00 1412.00,88.12 1418.76,84.00 1425.53,83.75 1432.29,84.00 1439.05,80.00 1445.82,78.75 1452.58,72.50 1459.34,72.75 1466.11,72.50 1472.87,82.25 1479.63,74.38 1486.40,75.00 1493.16,72.75 1499.93,69.38 1506.69,70.00 1513.45,69.38 1520.22,67.50 1526.98,69.38 1533.74,71.25 1540.51,71.50 1547.27,70.25 1554.03,77.25 1560.80,75.00 1567.56,65.00 1574.32,59.00 1581.09,58.75 1587.85,58.75 1594.62,60.62 1601.38,56.50 1608.14,56.25 1614.91,52.12 1621.67,51.88 1628.43,57.50 1635.20,54.75 1641.96,54.75 1648.72,55.00 1655.49,56.25 1662.25,63.12 1669.02,76.88 1675.78,77.25 1682.54,76.00 1689.31,76.00 1696.07,76.00 1702.83,76.00 1709.60,76.00 1716.36,76.00 1723.12,76.00 1729.89,76.00 1736.65,76.00 1743.41,76.00 1750.18,76.00 1756.94,72.75 1763.71,68.50 1770.47,71.00 1777.23,75.62 1784.00,72.75 1790.76,73.50 1797.52,80.62 1804.29,69.75 1811.05,70.25 1817.81,72.50" fill="none" stroke="#0000ff" stroke-width="1.1"/>
<polyline points="99.86,93.60 106.62,93.60 113.39,93.60 120.15,93.60 126.91,93.60 133.68,93.60 140.44,93.60 147.21,93.60 153.97,93.60 160.73,93.60 167.50,93.60 174.26,93.60 181.02,93.60 187.79,93.60 194.55,93.60 201.31,93.60 208.08,93.60 214.84,93.60 221.60,93.60 228.37,93.60 235.13,93.60 241.90,93.60 248.66,123.12 255.42,132.75 262.19,132.50 268.95,131.88 275.71,131.88 282.48,134.00 289.24,123.75 296.00,129.00 302.77,123.12 309.53,121.88 316.30,122.75 323.06,117.88 329.82,116.00 336.59,115.75 343.35,113.50 350.11,106.00 356.88,106.88 363.64,104.75 370.40,102.25 377.17,114.38 383.93,108.75 390.69,115.62 397.46,121.88 404.22,118.12 410.99,119.75 417.75,82.50 424.51,82.50 431.28,82.50 438.04,82.50 444.80,82.50 451.57,118.50 458.33,118.75 465.09,120.25 471.86,117.88 478.62,117.25 485.39,113.75 492.15,115.00 498.91,113.12 505.68,121.25 512.44,124.00 519.20,121.00 525.97,112.25 532.73,116.00 539.49,111.88 546.26,116.88 553.02,114.38 559.78,114.75 566.55,121.88 573.31,118.12 580.08,128.75 586.84,91.25 593.60,91.25 600.37,91.25 607.13,91.25 613.89,91.25 620.66,91.25 627.42,91.25 634.18,127.75 640.95,124.75 647.71,129.38 654.48,133.75 661.24,129.75 668.00,136.88 674.77,132.25 681.53,127.25 688.29,126.88 695.06,124.00 701.82,129.38 708.58,134.38 715.35,150.62 722.11,158.12 728.87,120.60 735.64,120.60 742.40,120.60 749.17,120.60 755.93,120.60 762.69,120.60 769.46,120.60 776.22,120.60 782.98,120.60 789.75,120.60 796.51,120.60 803.27,120.60 810.04,120.60 816.80,120.60 823.57,120.60 830.33,120.60 837.09,120.60 843.86,120.60 850.62,120.60 857.38,120.60 864.15,120.60 870.91,120.60 877.67,120.60 884.44,120.60 891.20,120.60 897.96,120.60 904.73,120.60 911.49,120.60 918.26,120.60 925.02,120.60 931.78,164.38 938.55,164.75 945.31,151.25 952.07,137.50 958.84,135.00 965.60,134.00 972.36,142.50 979.13,135.00 985.89,136.88 992.66,134.75 999.42,143.50 1006.18,141.25 1012.95,153.12 1019.71,164.38 1026.47,166.00 1033.24,129.75 1040.00,129.75 1046.76,129.75 1053.53,129.75 1060.29,129.75 1067.05,129.75 1073.82,166.25 1080.58,159.38 1087.35,152.75 1094.11,156.25 1100.87,166.00 1107.64,156.00 1114.40,161.00 1121.16,151.88 1127.93,162.75 1134.69,161.88 1141.45,153.75 1148.22,159.75 1154.98,159.75 1161.75,150.62 1168.51,142.50 1175.27,138.12 1182.04,136.25 1188.80,137.50 1195.56,140.62 1202.33,137.75 1209.09,143.75 1215.85,139.75 1222.62,139.75 1229.38,134.75 1236.14,134.75 1242.91,132.75 1249.67,134.38 1256.44,132.25 1263.20,129.00 1269.96,131.88 1276.73,140.00 1283.49,147.50 1290.25,145.62 1297.02,108.75 1303.78,108.75 1310.54,108.75 1317.31,108.75 1324.07,108.75 1330.84,108.75 1337.60,151.88 1344.36,140.00 1351.13,137.25 1357.89,145.25 1364.65,143.75 1371.42,134.00 1378.18,130.00 1384.94,130.00 1391.71,129.00 1398.47,130.62 1405.23,132.50 1412.00,125.62 1418.76,121.50 1425.53,121.25 1432.29,121.50 1439.05,117.50 1445.82,116.25 1452.58,110.00 1459.34,110.25 1466.11,110.00 1472.87,119.75 1479.63,111.88 1486.40,112.50 1493.16,110.25 1499.93,106.88 1506.69,107.50 1513.45,106.88 1520.22,105.00 1526.98,106.88 1533.74,108.75 1540.51,109.00 1547.27,107.75 1554.03,114.75 1560.80,112.50 1567.56,102.50 1574.32,96.50 1581.09,96.25 1587.85,96.25 1594.62,98.12 1601.38,94.00 1608.14,93.75 1614.91,89.62 1621.67,89.38 1628.43,95.00 1635.20,92.25 1641.96,92.25 1648.72,92.50 1655.49,93.75 1662.25,100.62 1669.02,114.38 1675.78,114.75 1682.54,76.00 1689.31,76.00 1696.07,76.00 1702.83,76.00 1709.60,76.00 1716.36,76.00 1723.12,76.00 1729.89,76.00 1736.65,76.00 1743.41,76.00 1750.18,76.00 1756.94,110.25 1763.71,106.00 1770.47,108.50 1777.23,113.12 1784.00,110.25 1790.76,111.00 1797.52,118.12 1804.29,107.25 1811.05,107.75 1817.81,110.00" fill="none" stroke="#ff0000" stroke-width="1.1"/>
<line x1="1033.24" y1="129.75" x2="1067.05" y2="129.75" stroke="#6e6464" stroke-width="1.2"/>
<line x1="1297.02" y1="108.75" x2="1330.84" y2="108.75" stroke="#6e6464" stroke-width="1.2"/>
<line x1="1682.54" y1="76.00" x2="1750.18" y2="76.00" stroke="#6e6464" stroke-width="1.2"/>
<circle cx="417.75" cy="216.3" r="4.2" fill="#3333ff" stroke="#000" stroke-width="0.9"/>
<circle cx="586.84" cy="251.3" r="4.2" fill="#ee1111" stroke="#000" stroke-width="0.9"/>
<circle cx="728.87" cy="286.2" r="4.2" fill="#ee1111" stroke="#000" stroke-width="0.9"/>
<circle cx="1033.24" cy="252.2" r="4.2" fill="#ee1111" stroke="#000" stroke-width="0.9"/>
<circle cx="1297.02" cy="199.3" r="4.2" fill="#3333ff" stroke="#000" stroke-width="0.9"/>
<circle cx="1682.54" cy="177.3" r="4.2" fill="#3333ff" stroke="#000" stroke-width="0.9"/><rect x="96.5" y="37.5" width="1728" height="132" fill="none" stroke="#000" stroke-width="1"/><rect x="96.5" y="169.5" width="1728" height="133" fill="none" stroke="#000" stroke-width="1"/><rect x="96.5" y="302.5" width="1728" height="662" fill="none" stroke="#000" stroke-width="1"/><line x1="1820" y1="56.25" x2="1824" y2="56.25" stroke="#000" stroke-width="1"/><text x="1827.5" y="58.9" font-family="DejaVu Sans, Liberation Sans, sans-serif" font-size="12" letter-spacing="0.5" fill="#000">22000</text><line x1="1820" y1="94.4" x2="1824" y2="94.4" stroke="#000" stroke-width="1"/><text x="1827.5" y="97.0" font-family="DejaVu Sans, Liberation Sans, sans-serif" font-size="12" letter-spacing="0.5" fill="#000">20000</text><line x1="1820" y1="132.5" x2="1824" y2="132.5" stroke="#000" stroke-width="1"/><text x="1827.5" y="135.1" font-family="DejaVu Sans, Liberation Sans, sans-serif" font-size="12" letter-spacing="0.5" fill="#000">18000</text><line x1="1820" y1="203.2" x2="1824" y2="203.2" stroke="#000" stroke-width="1"/><text x="1827.5" y="205.8" font-family="DejaVu Sans, Liberation Sans, sans-serif" font-size="12" letter-spacing="0.5" fill="#000">1000</text><line x1="1820" y1="236.3" x2="1824" y2="236.3" stroke="#000" stroke-width="1"/><text x="1827.5" y="238.9" font-family="DejaVu Sans, Liberation Sans, sans-serif" font-size="12" letter-spacing="0.5" fill="#000">0</text><line x1="1820" y1="269.3" x2="1824" y2="269.3" stroke="#000" stroke-width="1"/><text x="1827.5" y="271.9" font-family="DejaVu Sans, Liberation Sans, sans-serif" font-size="12" letter-spacing="0.5" fill="#000">−1000</text><line x1="1820" y1="891.2" x2="1824" y2="891.2" stroke="#000" stroke-width="1"/><text x="1827.5" y="893.8" font-family="DejaVu Sans, Liberation Sans, sans-serif" font-size="12" letter-spacing="0.5" fill="#000">3400</text><line x1="1820" y1="817.5" x2="1824" y2="817.5" stroke="#000" stroke-width="1"/><text x="1827.5" y="820.1" font-family="DejaVu Sans, Liberation Sans, sans-serif" font-size="12" letter-spacing="0.5" fill="#000">3500</text><line x1="1820" y1="743.8" x2="1824" y2="743.8" stroke="#000" stroke-width="1"/><text x="1827.5" y="746.4" font-family="DejaVu Sans, Liberation Sans, sans-serif" font-size="12" letter-spacing="0.5" fill="#000">3600</text><line x1="1820" y1="670.1" x2="1824" y2="670.1" stroke="#000" stroke-width="1"/><text x="1827.5" y="672.7" font-family="DejaVu Sans, Liberation Sans, sans-serif" font-size="12" letter-spacing="0.5" fill="#000">3700</text><line x1="1820" y1="596.4" x2="1824" y2="596.4" stroke="#000" stroke-width="1"/><text x="1827.5" y="599.0" font-family="DejaVu Sans, Liberation Sans, sans-serif" font-size="12" letter-spacing="0.5" fill="#000">3800</text><line x1="1820" y1="522.7" x2="1824" y2="522.7" stroke="#000" stroke-width="1"/><text x="1827.5" y="525.3" font-family="DejaVu Sans, Liberation Sans, sans-serif" font-size="12" letter-spacing="0.5" fill="#000">3900</text><line x1="1820" y1="449.0" x2="1824" y2="449.0" stroke="#000" stroke-width="1"/><text x="1827.5" y="451.6" font-family="DejaVu Sans, Liberation Sans, sans-serif" font-size="12" letter-spacing="0.5" fill="#000">4000</text><line x1="1820" y1="375.3" x2="1824" y2="375.3" stroke="#000" stroke-width="1"/><text x="1827.5" y="377.9" font-family="DejaVu Sans, Liberation Sans, sans-serif" font-size="12" letter-spacing="0.5" fill="#000">4100</text><line x1="99.50" y1="960" x2="99.50" y2="964" stroke="#000" stroke-width="1"/><line x1="167.50" y1="960" x2="167.50" y2="964" stroke="#000" stroke-width="1"/><text x="167.50" y="979" font-family="DejaVu Sans, Liberation Sans, sans-serif" font-size="12" text-anchor="middle" fill="#000">16</text><line x1="235.50" y1="960" x2="235.50" y2="964" stroke="#000" stroke-width="1"/><text x="235.50" y="979" font-family="DejaVu Sans, Liberation Sans, sans-serif" font-size="12" text-anchor="middle" fill="#000">30</text><line x1="302.50" y1="960" x2="302.50" y2="964" stroke="#000" stroke-width="1"/><text x="302.50" y="979" font-family="DejaVu Sans, Liberation Sans, sans-serif" font-size="12" text-anchor="middle" fill="#000">13</text><line x1="370.50" y1="960" x2="370.50" y2="964" stroke="#000" stroke-width="1"/><text x="370.50" y="979" font-family="DejaVu Sans, Liberation Sans, sans-serif" font-size="12" text-anchor="middle" fill="#000">27</text><line x1="438.50" y1="960" x2="438.50" y2="964" stroke="#000" stroke-width="1"/><line x1="505.50" y1="960" x2="505.50" y2="964" stroke="#000" stroke-width="1"/><text x="505.50" y="979" font-family="DejaVu Sans, Liberation Sans, sans-serif" font-size="12" text-anchor="middle" fill="#000">27</text><line x1="573.50" y1="960" x2="573.50" y2="964" stroke="#000" stroke-width="1"/><text x="573.50" y="979" font-family="DejaVu Sans, Liberation Sans, sans-serif" font-size="12" text-anchor="middle" fill="#000">10</text><line x1="640.50" y1="960" x2="640.50" y2="964" stroke="#000" stroke-width="1"/><text x="640.50" y="979" font-family="DejaVu Sans, Liberation Sans, sans-serif" font-size="12" text-anchor="middle" fill="#000">26</text><line x1="708.50" y1="960" x2="708.50" y2="964" stroke="#000" stroke-width="1"/><text x="708.50" y="979" font-family="DejaVu Sans, Liberation Sans, sans-serif" font-size="12" text-anchor="middle" fill="#000">11</text><line x1="776.50" y1="960" x2="776.50" y2="964" stroke="#000" stroke-width="1"/><line x1="843.50" y1="960" x2="843.50" y2="964" stroke="#000" stroke-width="1"/><text x="843.50" y="979" font-family="DejaVu Sans, Liberation Sans, sans-serif" font-size="12" text-anchor="middle" fill="#000">08</text><line x1="911.50" y1="960" x2="911.50" y2="964" stroke="#000" stroke-width="1"/><text x="911.50" y="979" font-family="DejaVu Sans, Liberation Sans, sans-serif" font-size="12" text-anchor="middle" fill="#000">22</text><line x1="979.50" y1="960" x2="979.50" y2="964" stroke="#000" stroke-width="1"/><text x="979.50" y="979" font-family="DejaVu Sans, Liberation Sans, sans-serif" font-size="12" text-anchor="middle" fill="#000">06</text><line x1="1046.50" y1="960" x2="1046.50" y2="964" stroke="#000" stroke-width="1"/><text x="1046.50" y="979" font-family="DejaVu Sans, Liberation Sans, sans-serif" font-size="12" text-anchor="middle" fill="#000">20</text><line x1="1114.50" y1="960" x2="1114.50" y2="964" stroke="#000" stroke-width="1"/><line x1="1182.50" y1="960" x2="1182.50" y2="964" stroke="#000" stroke-width="1"/><text x="1182.50" y="979" font-family="DejaVu Sans, Liberation Sans, sans-serif" font-size="12" text-anchor="middle" fill="#000">17</text><line x1="1249.50" y1="960" x2="1249.50" y2="964" stroke="#000" stroke-width="1"/><text x="1249.50" y="979" font-family="DejaVu Sans, Liberation Sans, sans-serif" font-size="12" text-anchor="middle" fill="#000">31</text><line x1="1317.50" y1="960" x2="1317.50" y2="964" stroke="#000" stroke-width="1"/><text x="1317.50" y="979" font-family="DejaVu Sans, Liberation Sans, sans-serif" font-size="12" text-anchor="middle" fill="#000">14</text><line x1="1384.50" y1="960" x2="1384.50" y2="964" stroke="#000" stroke-width="1"/><text x="1384.50" y="979" font-family="DejaVu Sans, Liberation Sans, sans-serif" font-size="12" text-anchor="middle" fill="#000">28</text><line x1="1452.50" y1="960" x2="1452.50" y2="964" stroke="#000" stroke-width="1"/><line x1="1520.50" y1="960" x2="1520.50" y2="964" stroke="#000" stroke-width="1"/><text x="1520.50" y="979" font-family="DejaVu Sans, Liberation Sans, sans-serif" font-size="12" text-anchor="middle" fill="#000">26</text><line x1="1587.50" y1="960" x2="1587.50" y2="964" stroke="#000" stroke-width="1"/><text x="1587.50" y="979" font-family="DejaVu Sans, Liberation Sans, sans-serif" font-size="12" text-anchor="middle" fill="#000">09</text><line x1="1655.50" y1="960" x2="1655.50" y2="964" stroke="#000" stroke-width="1"/><text x="1655.50" y="979" font-family="DejaVu Sans, Liberation Sans, sans-serif" font-size="12" text-anchor="middle" fill="#000">23</text><line x1="1723.50" y1="960" x2="1723.50" y2="964" stroke="#000" stroke-width="1"/><text x="1723.50" y="979" font-family="DejaVu Sans, Liberation Sans, sans-serif" font-size="12" text-anchor="middle" fill="#000">07</text><line x1="1790.50" y1="960" x2="1790.50" y2="964" stroke="#000" stroke-width="1"/><text x="104" y="53.7" font-family="DejaVu Sans, Liberation Sans, sans-serif" font-size="10" fill="#000">Broker</text><line x1="105" y1="65.3" x2="126" y2="65.3" stroke="#f00" stroke-width="1"/><text x="133" y="68.8" font-family="DejaVu Sans, Liberation Sans, sans-serif" font-size="10" fill="#000">cash 19132.00</text><line x1="105" y1="80.5" x2="126" y2="80.5" stroke="#00f" stroke-width="1"/><text x="133" y="83.7" font-family="DejaVu Sans, Liberation Sans, sans-serif" font-size="10" fill="#000">value 21132.00</text><text x="106" y="185.7" font-family="DejaVu Sans, Liberation Sans, sans-serif" font-size="10" fill="#000">Trades - Net Profit/Loss</text><line x1="105" y1="198.4" x2="126" y2="198.4" stroke="#00f" stroke-width="1"/><circle cx="115.4" cy="198.3" r="4.2" fill="#3333ff" stroke="#000" stroke-width="0.6"/><text x="133" y="200.8" font-family="DejaVu Sans, Liberation Sans, sans-serif" font-size="10" fill="#000">Positive</text><line x1="105" y1="213.4" x2="126" y2="213.4" stroke="#f00" stroke-width="1"/><circle cx="115.4" cy="213.3" r="4.2" fill="#ee1111" stroke="#000" stroke-width="0.6"/><text x="133" y="215.7" font-family="DejaVu Sans, Liberation Sans, sans-serif" font-size="10" fill="#000">Negative</text><text x="133.5" y="318.9" font-family="DejaVu Sans, Liberation Sans, sans-serif" font-size="10" fill="#000">2006-day-001 (1 Day) O:4130.12 H:4142 L:4119.94 C:4119.94</text><text x="133.5" y="333.9" font-family="DejaVu Sans, Liberation Sans, sans-serif" font-size="10" fill="#000">buy</text><text x="133.5" y="348.9" font-family="DejaVu Sans, Liberation Sans, sans-serif" font-size="10" fill="#000">sell</text><text x="133.5" y="363.9" font-family="DejaVu Sans, Liberation Sans, sans-serif" font-size="10" fill="#000">SMA (5) 4114.21</text><text x="133.5" y="378.9" font-family="DejaVu Sans, Liberation Sans, sans-serif" font-size="10" fill="#000">SMA (20) 4065.88</text><line x1="105" y1="330.5" x2="126" y2="330.5" stroke="#777" stroke-width="1"/><path d="M111.5 334 L115.5 326.5 L119.5 334 Z" fill="#777" stroke="#222" stroke-width="0.6"/><line x1="105" y1="345.5" x2="126" y2="345.5" stroke="#f00" stroke-width="1"/><path d="M111.5 342 L115.5 349.5 L119.5 342 Z" fill="#f00" stroke="#222" stroke-width="0.6"/><line x1="105" y1="360.5" x2="126" y2="360.5" stroke="#f00" stroke-width="1"/><line x1="105" y1="375.5" x2="126" y2="375.5" stroke="#00f" stroke-width="1"/><g stroke-width="1.6" fill="none"><path d="M108.1 312v7M108.1 315.3h-2.6M108.1 312.8h2.6M121.7 312v7M121.7 315.3h-2.6M121.7 312.8h2.6" stroke="#bfbfbf"/><path d="M114.9 312v7M114.9 314.8h-2.6M114.9 316.9h2.6" stroke="#f00"/></g><path d="M1823 65.3 h49.3 v14.4 h-49.3 q-3 -2 -3 -3.6 q0 -1.6 1.6 -3.6 q-1.6 -2 -1.6 -3.6 q0 -1.6 3 -3.6 z" fill="#fff" stroke="#00f" stroke-width="1.3"/><text x="1824.3" y="76.1" font-family="DejaVu Sans, Liberation Sans, sans-serif" font-size="10" letter-spacing="-0.1" fill="#000">21132.00</text><path d="M1823 103.3 h49.3 v14.4 h-49.3 q-3 -2 -3 -3.6 q0 -1.6 1.6 -3.6 q-1.6 -2 -1.6 -3.6 q0 -1.6 3 -3.6 z" fill="#fff" stroke="#f00" stroke-width="1.3" stroke-dasharray="2 1.2"/><text x="1824.3" y="114.1" font-family="DejaVu Sans, Liberation Sans, sans-serif" font-size="10" letter-spacing="-0.1" fill="#000">19132.00</text><path d="M1823 393.2 h44.3 v14.4 h-44.3 q-3 -2 -3 -3.6 q0 -1.6 1.6 -3.6 q-1.6 -2 -1.6 -3.6 q0 -1.6 3 -3.6 z" fill="#fff" stroke="#00f" stroke-width="1.3"/><text x="1824.3" y="404.0" font-family="DejaVu Sans, Liberation Sans, sans-serif" font-size="10" letter-spacing="-0.1" fill="#000">4065.88</text><path d="M1823 358.3 h44.3 v14.4 h-44.3 q-3 -2 -3 -3.6 q0 -1.6 1.6 -3.6 q-1.6 -2 -1.6 -3.6 q0 -1.6 3 -3.6 z" fill="#fff" stroke="#f00" stroke-width="1.3" stroke-dasharray="2 1.2"/><text x="1824.3" y="369.1" font-family="DejaVu Sans, Liberation Sans, sans-serif" font-size="10" letter-spacing="-0.1" fill="#000">4114.21</text><path d="M1823 353.3 h44.3 v14.4 h-44.3 q-3 -2 -3 -3.6 q0 -1.6 1.6 -3.6 q-1.6 -2 -1.6 -3.6 q0 -1.6 3 -3.6 z" fill="#fff" stroke="#000" stroke-width="1.3"/><text x="1824.3" y="364.1" font-family="DejaVu Sans, Liberation Sans, sans-serif" font-size="10" letter-spacing="-0.1" fill="#000">4119.94</text><rect x="1727.5" y="950.5" width="73" height="70" fill="#f6f4ee" fill-opacity="0.85" stroke="#7a7080" stroke-width="1" stroke-dasharray="3 1.5"/><rect x="1729.5" y="952.5" width="21" height="21" fill="#d9d7cf" stroke="#7a7080" stroke-width="1.3"/><rect x="1730.2" y="953.2" width="19.6" height="10.8" fill="#f0efea"/><rect x="1753.5" y="952.5" width="21" height="21" fill="#d9d7cf" stroke="#7a7080" stroke-width="1.3"/><rect x="1754.2" y="953.2" width="19.6" height="10.8" fill="#f0efea"/><rect x="1777.5" y="952.5" width="21" height="21" fill="#d9d7cf" stroke="#7a7080" stroke-width="1.3"/><rect x="1778.2" y="953.2" width="19.6" height="10.8" fill="#f0efea"/><rect x="1729.5" y="976.5" width="21" height="21" fill="#d9d7cf" stroke="#7a7080" stroke-width="1.3"/><rect x="1753.5" y="976.5" width="21" height="21" fill="#d9d7cf" stroke="#7a7080" stroke-width="1.3"/><rect x="1777.5" y="976.5" width="21" height="21" fill="#d9d7cf" stroke="#7a7080" stroke-width="1.3"/><rect x="1729.5" y="1000.5" width="21" height="21" fill="#d9d7cf" stroke="#7a7080" stroke-width="1.3"/><rect x="1753.5" y="1000.5" width="21" height="21" fill="#d9d7cf" stroke="#7a7080" stroke-width="1.3"/><rect x="1777.5" y="1000.5" width="21" height="21" fill="#d9d7cf" stroke="#7a7080" stroke-width="1.3"/><polygon points="1736.32,959.32 1740.40,967.58 1744.58,963.40" fill="#3030f0" stroke="#505070" stroke-width="0.6"/><polygon points="1764.00,957.80 1761.04,966.52 1766.96,966.52" fill="#3030f0" stroke="#505070" stroke-width="0.6"/><polygon points="1791.68,959.32 1783.42,963.40 1787.60,967.58" fill="#3030f0" stroke="#505070" stroke-width="0.6"/><polygon points="1734.80,987.00 1743.52,989.96 1743.52,984.04" fill="#3030f0" stroke="#505070" stroke-width="0.6"/><polygon points="1764,981 1766,985 1770,987 1766,989 1764,993 1762,989 1758,987 1762,985" fill="#3030f0" stroke="#303050" stroke-width="0.6"/><polygon points="1793.20,987.00 1784.48,984.04 1784.48,989.96" fill="#3030f0" stroke="#505070" stroke-width="0.6"/><polygon points="1736.32,1014.68 1744.58,1010.60 1740.40,1006.42" fill="#3030f0" stroke="#505070" stroke-width="0.6"/><polygon points="1764.00,1016.20 1766.96,1007.48 1761.04,1007.48" fill="#3030f0" stroke="#505070" stroke-width="0.6"/><polygon points="1791.68,1014.68 1787.60,1006.42 1783.42,1010.60" fill="#3030f0" stroke="#505070" stroke-width="0.6"/><line x1="1727" y1="964.5" x2="1824.5" y2="964.5" stroke="#000" stroke-width="1"/>
</svg>
</body></html>
